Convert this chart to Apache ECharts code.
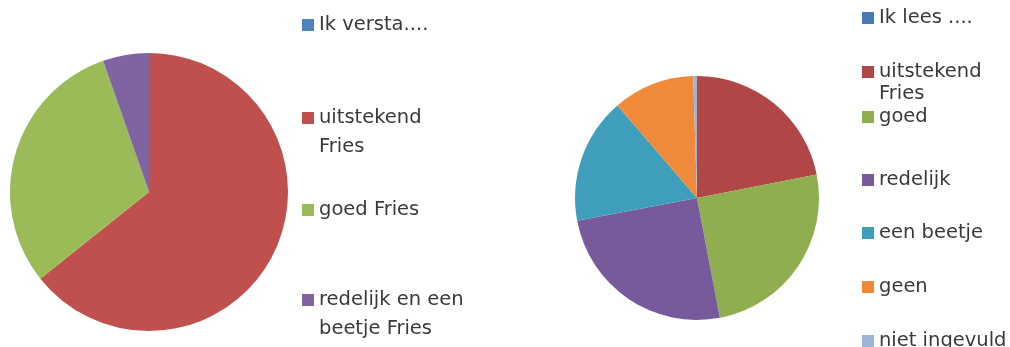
<!DOCTYPE html>
<html>
<head>
<meta charset="utf-8">
<script src="https://cdn.jsdelivr.net/npm/echarts@6/dist/echarts.min.js"></script>
<style>
html,body{margin:0;padding:0;background:#fff;}
#c{width:1010px;height:347px;}
</style>
</head>
<body>
<div id="c"></div>
<script>
// Left pie: "Ik versta...."
var leftNames = ['Ik versta....', 'uitstekend Fries', 'goed Fries', 'redelijk en een beetje Fries'];
var leftLabels = ['Ik versta....', 'uitstekend\nFries', 'goed Fries', 'redelijk en een\nbeetje Fries'];
var leftValues = [0, 36, 17, 3];
var leftColors = ['#4F81BD', '#C0504D', '#9BBB59', '#8064A2'];

// Right pie: "Ik lees ...."
var rightNames = ['Ik lees ....', 'uitstekend Fries ', 'goed', 'redelijk', 'een beetje', 'geen', 'niet ingevuld'];
var rightLabels = ['Ik lees ....', 'uitstekend\nFries', 'goed', 'redelijk', 'een beetje', 'geen', 'niet ingevuld'];
var rightValues = [0, 21.9, 25.1, 25.0, 16.7, 10.8, 0.5];
var rightColors = ['#4A7AB5', '#B04746', '#8FAE4F', '#775A9C', '#3F9FBA', '#EE8A3A', '#9DB3D8'];

// legend layout (icon vertical centres)
var leftLegendY = [25, 118, 210, 300];
var rightLegendY = [18, 72, 117, 180, 233, 287, 341];

var textColor = '#3a3a3a';
var fontFamily = 'DejaVu Sans';
var fontSize = 19.5;

function makeLegends(names, labels, colors, ys, x, twoLineLH) {
  var out = [];
  for (var i = 0; i < names.length; i++) {
    var multi = labels[i].indexOf('\n') >= 0;
    var lh = multi ? twoLineLH : 22;
    // multi-line: leading empty line so the first text line sits on the icon
    var txt = multi ? '\n' + labels[i] : labels[i];
    var top = multi ? ys[i] - 1.5 * lh : ys[i] - lh / 2;
    (function (lab) {
      out.push({
        left: x,
        top: top,
        padding: 0,
        orient: 'vertical',
        icon: 'rect',
        itemWidth: 12,
        itemHeight: 12,
        selectedMode: false,
        data: [{ name: names[i], itemStyle: { color: colors[i] } }],
        formatter: function () { return lab; },
        textStyle: {
          color: textColor,
          fontFamily: fontFamily,
          fontSize: fontSize,
          lineHeight: lh
        }
      });
    })(txt);
  }
  return out;
}

var legends = makeLegends(leftNames, leftLabels, leftColors, leftLegendY, 302, 29)
  .concat(makeLegends(rightNames, rightLabels, rightColors, rightLegendY, 862, 22));

function pieData(names, values, colors) {
  return names.map(function (n, i) {
    return { name: n, value: values[i], itemStyle: { color: colors[i] } };
  });
}

var chart = echarts.init(document.getElementById('c'));
chart.setOption({
  backgroundColor: '#ffffff',
  animation: false,
  legend: legends,
  series: [
    {
      type: 'pie',
      center: [149, 192],
      radius: 139,
      startAngle: 90,
      clockwise: true,
      label: { show: false },
      labelLine: { show: false },
      emphasis: { disabled: true },
      itemStyle: { borderWidth: 0 },
      data: pieData(leftNames, leftValues, leftColors)
    },
    {
      type: 'pie',
      center: [697, 198],
      radius: 122,
      startAngle: 90,
      clockwise: true,
      label: { show: false },
      labelLine: { show: false },
      emphasis: { disabled: true },
      itemStyle: { borderWidth: 0 },
      data: pieData(rightNames, rightValues, rightColors)
    }
  ]
});
</script>
</body>
</html>
